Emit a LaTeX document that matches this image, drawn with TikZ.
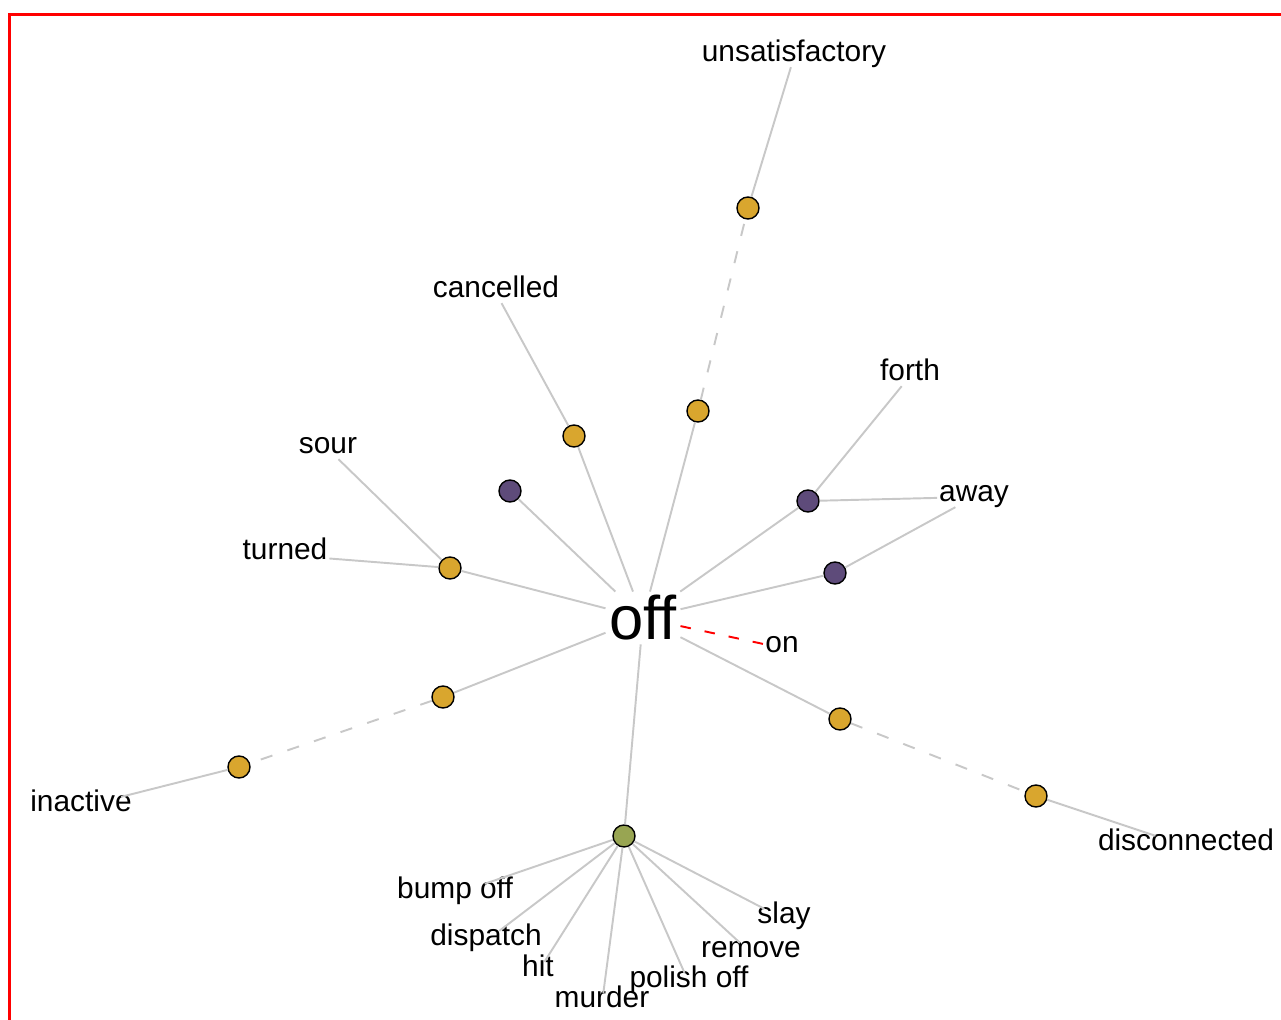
\documentclass[tikz,border=0pt]{standalone}
\usepackage{fontspec}
\setmainfont{Liberation Sans}
\definecolor{gold}{HTML}{D9A62E}
\definecolor{plum}{HTML}{5E4B7A}
\definecolor{olive}{HTML}{98A552}
\definecolor{lgray}{HTML}{C8C8C8}
\begin{document}
\begin{tikzpicture}[
        x=0.02cm, y=-0.02cm,
        font=\fontsize{17}{19}\selectfont
    ]
    \tikzset{
        gnode/.style = {circle, draw=black, line width=0.8pt, fill=gold, minimum size=0.44cm, inner sep=0pt},
        pnode/.style = {circle, draw=black, line width=0.8pt, fill=plum, minimum size=0.44cm, inner sep=0pt},
        vnode/.style = {circle, draw=black, line width=0.8pt, fill=olive, minimum size=0.44cm, inner sep=0pt},
        word/.style = {inner sep=1pt, text height=0.72em, text depth=0.2em, yshift=-0.1cm},
        edgen/.style = {-, line width=1.1pt, lgray},
        edged/.style = {-, line width=1.1pt, lgray, dash pattern=on 7pt off 9pt},
        edger/.style = {-, line width=1.1pt, red, dash pattern=on 6pt off 8pt},
    }
    \useasboundingbox (0,0) rectangle (1281,1020);
    \clip (0,0) rectangle (1281,1020);
    \draw[red, line width=0.07cm] (9.5,14.5) rectangle (1320,1060);
    \node[inner sep=2pt, font=\fontsize{35}{38}\selectfont] at (643,618) (off) {off};
    \node[word, inner sep=0pt] at (782,643) (on) {on};
    %
    \node[gnode] at (748,208) (u1) {};
    \node[gnode] at (698,411) (u2) {};
    \node[word] at (794,52) (unsat) {unsatisfactory};
    \node[gnode] at (574,436) (c) {};
    \node[word] at (496,288) (cancelled) {cancelled};
    \node[pnode] at (808,501) (f) {};
    \node[word] at (910,371) (forth) {forth};
    \node[word] at (974,492) (away) {away};
    \node[pnode] at (835,573) (a) {};
    \node[pnode] at (510,491) (p) {};
    \node[gnode] at (450,568) (t) {};
    \node[word] at (328,444) (sour) {sour};
    \node[word] at (285,550) (turned) {turned};
    \node[gnode] at (443,697) (i1) {};
    \node[gnode] at (239,767) (i2) {};
    \node[word] at (81,802) (inactive) {inactive};
    \node[gnode] at (840,719) (d1) {};
    \node[gnode] at (1036,796) (d2) {};
    \node[word] at (1186,841) (disc) {disconnected};
    \node[vnode] at (624,836) (g) {};
    \node[word] at (455,889) (bump) {bump off};
    \node[word] at (486,936) (dispatch) {dispatch};
    \node[word] at (538,967) (hit) {hit};
    \node[word] at (602,998) (murder) {murder};
    \node[word] at (689,978) (polish) {polish off};
    \node[word] at (751,948) (remove) {remove};
    \node[word] at (784,914) (slay) {slay};
    %
    \draw[edger] (off) -- (on);
    \draw[edgen] (off) -- (u2);
    \draw[edged] (u2) -- (u1);
    \draw[edgen] (u1) -- (unsat);
    \draw[edgen] (off) -- (c);
    \draw[edgen] (c) -- (cancelled);
    \draw[edgen] (off) -- (f);
    \draw[edgen] (f) -- (forth);
    \draw[edgen] (f) -- (away);
    \draw[edgen] (off) -- (a);
    \draw[edgen] (a) -- (away);
    \draw[edgen] (off) -- (p);
    \draw[edgen] (off) -- (t);
    \draw[edgen] (t) -- (sour);
    \draw[edgen] (t) -- (turned);
    %
    \draw[edgen] (off) -- (i1);
    \draw[edged] (i1) -- (i2);
    \draw[edgen] (i2) -- (inactive);
    \draw[edgen] (off) -- (d1);
    \draw[edged] (d1) -- (d2);
    \draw[edgen] (d2) -- (disc);
    %
    \draw[edgen] (off) -- (g);
    \draw[edgen] (g) -- (bump);
    \draw[edgen] (g) -- (dispatch);
    \draw[edgen] (g) -- (hit);
    \draw[edgen] (g) -- (murder);
    \draw[edgen] (g) -- (polish);
    \draw[edgen] (g) -- (remove);
    \draw[edgen] (g) -- (slay);
\end{tikzpicture}
\end{document}
